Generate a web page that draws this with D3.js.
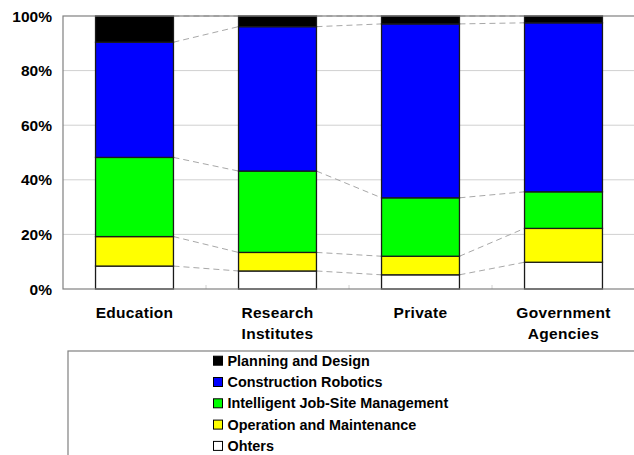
<!DOCTYPE html>
<html>
<head>
<meta charset="utf-8">
<script src="https://cdn.jsdelivr.net/npm/d3@7"></script>
<style>
  html, body { margin: 0; padding: 0; background: #fff; }
  svg { display: block; font-family: "Liberation Sans", Arial, sans-serif; font-weight: bold; }
</style>
</head>
<body>
<svg id="chart"></svg>
<script>
// Stacked 100% bars by organisation type
const width = 634;
const height = 455;

const categories = ["Education", "Research Institutes", "Private", "Government Agencies"];
const categoryLines = [["Education"], ["Research", "Institutes"], ["Private"], ["Government", "Agencies"]];

// series values (percent), bottom to top
const others      = [8.4, 6.6, 5.2, 9.8];
const operation   = [10.8, 6.8, 6.8, 12.4];
const intelligent = [29.0, 29.8, 21.4, 13.4];
const robotics    = [42.2, 52.9, 63.7, 61.9];
const planning    = [9.6, 3.9, 2.9, 2.5];

const seriesNames = ["Ohters", "Operation and Maintenance", "Intelligent Job-Site Management", "Construction Robotics", "Planning and Design"];
const seriesValues = [others, operation, intelligent, robotics, planning];
const seriesColors = ["#ffffff", "#ffff00", "#00ff00", "#0000ff", "#000000"];

const yTicks = [0, 20, 40, 60, 80, 100];

const svg = d3.select("#chart")
    .attr("width", width)
    .attr("height", height);

const plot = { left: 63, right: 635, top: 16, bottom: 289 };

const x = d3.scaleBand()
    .domain(categories)
    .range([plot.left, plot.right])
    .paddingInner(0.455)
    .paddingOuter(0.2275);

const y = d3.scaleLinear()
    .domain([0, 100])
    .range([plot.bottom, plot.top]);

// build rows for d3.stack
const rows = categories.map((c, i) => {
    const row = { category: c };
    seriesNames.forEach((s, j) => { row[s] = seriesValues[j][i]; });
    return row;
});
const stacked = d3.stack().keys(seriesNames)(rows);

// plot background + gridlines
svg.append("rect")
    .attr("x", plot.left).attr("y", plot.top)
    .attr("width", plot.right - plot.left).attr("height", plot.bottom - plot.top)
    .attr("fill", "#fff");

svg.append("g")
    .selectAll("line")
    .data(yTicks.filter(d => d > 0 && d < 100))
    .enter().append("line")
    .attr("x1", plot.left).attr("x2", plot.right)
    .attr("y1", d => y(d)).attr("y2", d => y(d))
    .attr("stroke", "#d0d0d0")
    .attr("stroke-width", 1);

// small ticks between categories
const step = x.step();
svg.append("g")
    .selectAll("line")
    .data(categories.slice(1))
    .enter().append("line")
    .attr("x1", d => x(d) - (step - x.bandwidth()) / 2)
    .attr("x2", d => x(d) - (step - x.bandwidth()) / 2)
    .attr("y1", plot.bottom).attr("y2", plot.bottom - 4)
    .attr("stroke", "#d0d0d0");

// series lines (dashed connectors)
const connectors = [];
stacked.forEach(layer => {
    for (let i = 0; i < categories.length - 1; i++) {
        connectors.push({
            x1: x(categories[i]) + x.bandwidth(),
            y1: y(layer[i][1]),
            x2: x(categories[i + 1]),
            y2: y(layer[i + 1][1])
        });
    }
});
svg.append("g")
    .selectAll("line")
    .data(connectors)
    .enter().append("line")
    .attr("x1", d => d.x1).attr("y1", d => d.y1)
    .attr("x2", d => d.x2).attr("y2", d => d.y2)
    .attr("stroke", "#a8a8a8")
    .attr("stroke-width", 1)
    .attr("stroke-dasharray", "6,4");

// bars
svg.append("g")
    .selectAll("g")
    .data(stacked)
    .enter().append("g")
    .attr("fill", (d, i) => seriesColors[i])
    .selectAll("rect")
    .data(d => d)
    .enter().append("rect")
    .attr("x", d => x(d.data.category))
    .attr("y", d => y(d[1]))
    .attr("width", x.bandwidth())
    .attr("height", d => y(d[0]) - y(d[1]))
    .attr("stroke", "#1a1a1a")
    .attr("stroke-width", 1.3);

// plot border
svg.append("rect")
    .attr("x", plot.left).attr("y", plot.top)
    .attr("width", plot.right - plot.left).attr("height", plot.bottom - plot.top)
    .attr("fill", "none")
    .attr("stroke", "#808080")
    .attr("stroke-width", 1.2);

// y labels
svg.append("g")
    .selectAll("text")
    .data(yTicks)
    .enter().append("text")
    .attr("x", 52)
    .attr("y", d => y(d) + 5.5)
    .attr("text-anchor", "end")
    .attr("font-size", 15.5)
    .attr("fill", "#000")
    .text(d => d + "%");

// x labels
const xl = svg.append("g")
    .selectAll("text")
    .data(categories)
    .enter().append("text")
    .attr("x", d => x(d) + x.bandwidth() / 2)
    .attr("y", 318)
    .attr("text-anchor", "middle")
    .attr("font-size", 15.5)
    .attr("letter-spacing", 0.3)
    .attr("fill", "#000");
xl.selectAll("tspan")
    .data((d, i) => categoryLines[i])
    .enter().append("tspan")
    .attr("x", function() { return d3.select(this.parentNode).attr("x"); })
    .attr("dy", (d, i) => i === 0 ? 0 : 20.5)
    .text(d => d);

// legend
svg.append("rect")
    .attr("x", 68).attr("y", 351)
    .attr("width", 580).attr("height", 120)
    .attr("fill", "#fff")
    .attr("stroke", "#808080")
    .attr("stroke-width", 1.2);

const legendOrder = [4, 3, 2, 1, 0];
const legend = svg.append("g")
    .selectAll("g")
    .data(legendOrder)
    .enter().append("g")
    .attr("transform", (d, i) => `translate(213, ${360.7 + i * 21.3})`);

legend.append("rect")
    .attr("x", 0.5).attr("y", -4.5)
    .attr("width", 9).attr("height", 9)
    .attr("fill", d => seriesColors[d])
    .attr("stroke", "#000")
    .attr("stroke-width", 1);

legend.append("text")
    .attr("x", 14.5)
    .attr("y", 5)
    .attr("font-size", 14.4)
    .attr("fill", "#000")
    .text(d => seriesNames[d]);
</script>
</body>
</html>
